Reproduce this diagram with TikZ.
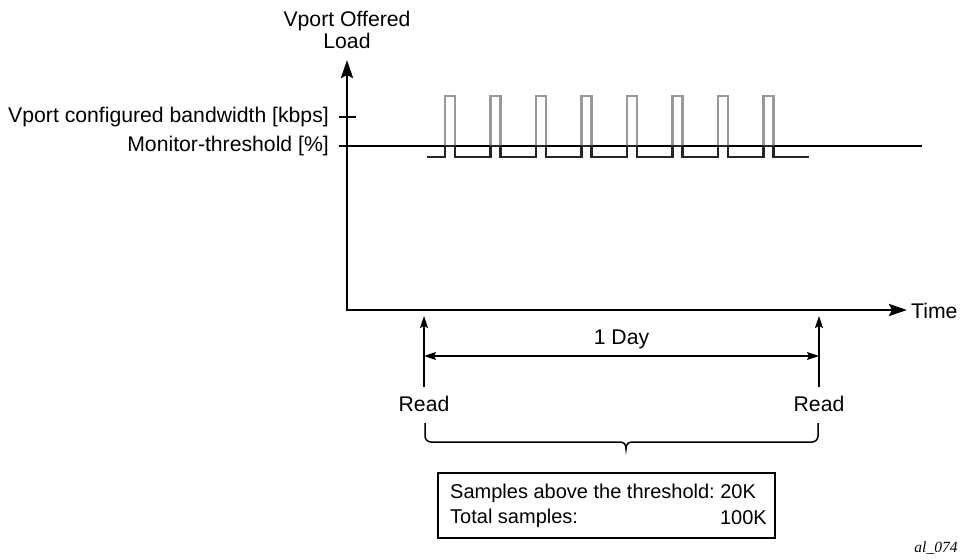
\documentclass[tikz,border=0pt]{standalone}
\usepackage{fontspec}
\setmainfont{Liberation Sans}
\newfontfamily\capfont{Liberation Serif}
\usetikzlibrary{arrows.meta}
\frenchspacing
\tikzset{
  axisline/.style={line width=2.8pt,-{Stealth[length=18pt,width=12pt,inset=3pt]}},
  thline/.style={line width=2.8pt},
  trace/.style={line width=2.5pt,black!85},
  pulse/.style={line width=2.5pt,black!40},
  readarrow/.style={line width=1.5pt,-{Stealth[length=12pt,width=8pt,inset=2pt]}},
  dayarrow/.style={line width=1.5pt,{Stealth[length=12pt,width=8pt,inset=2pt]}-{Stealth[length=12pt,width=8pt,inset=2pt]}},
  lbl/.style={font=\fontsize{21.2}{22.5}\selectfont,inner sep=0pt},
  boxlbl/.style={font=\fontsize{20}{22}\selectfont,inner sep=0pt},
}
\begin{document}
\begin{tikzpicture}[x=1pt,y=-1pt]
\useasboundingbox (0,0) rectangle (960,559);
% axes
\coordinate (origin) at (347,310);
\coordinate (ytop) at (347,60);
\coordinate (xend) at (907,310);
\draw[axisline] (origin) -- (ytop);
\draw[axisline] ([xshift=-1.4pt]origin) -- (xend);
\node[lbl,anchor=west] (time) at (911,311) {Time};
\node[lbl,align=center] (ylabel) at (347,30) {Vport Offered\\Load};
% ticks
\coordinate (tk1) at (339,117);
\coordinate (tk1e) at (356,117);
\draw[thline] (tk1) -- (tk1e);
\coordinate (th1) at (339,146);
\coordinate (th2) at (922,146);
\draw[thline] (th1) -- (th2);
\node[lbl,anchor=east] (bw) at (329,117) {Vport configured bandwidth [kbps]};
\node[lbl,anchor=east] (mt) at (329,146) {Monitor-threshold [\%]};
% pulses
\foreach \x in {445,490.5,536,581.5,627,672.5,718,763.5}{
  \draw[pulse] (\x,146) -- (\x,96) -- (\x+10,96) -- (\x+10,146);
}
\draw[trace] (427,157) -- (445,157) -- (445,146)
  -- (455,146) -- (455,157) -- (490.5,157) -- (490.5,146)
  -- (500.5,146) -- (500.5,157) -- (536,157) -- (536,146)
  -- (546,146) -- (546,157) -- (581.5,157) -- (581.5,146)
  -- (591.5,146) -- (591.5,157) -- (627,157) -- (627,146)
  -- (637,146) -- (637,157) -- (672.5,157) -- (672.5,146)
  -- (682.5,146) -- (682.5,157) -- (718,157) -- (718,146)
  -- (728,146) -- (728,157) -- (763.5,157) -- (763.5,146)
  -- (773.5,146) -- (773.5,157) -- (809,157);
% read arrows
\node[lbl] (read1) at (424,404) {Read};
\node[lbl] (read2) at (819,404) {Read};
\coordinate (r1top) at (424,316);
\coordinate (r2top) at (819,316);
\coordinate (r1bot) at (424,387);
\coordinate (r2bot) at (819,387);
\draw[readarrow] (r1bot) -- (r1top);
\draw[readarrow] (r2bot) -- (r2top);
\coordinate (d1) at (424,356);
\coordinate (d2) at (819,356);
\draw[dayarrow] (d1) -- (d2);
\node[lbl] (day) at (621.5,339) {1 Day};
% brace
\draw[line width=1.5pt,rounded corners=6pt] (425,423) -- (425,442) -- (619,442);
\draw[line width=1.5pt] (619,442) .. controls (624,442) and (626,444) .. (626,449)
  .. controls (626,444) and (628,442) .. (633,442);
\draw[line width=1.5pt,rounded corners=6pt] (633,442) -- (818,442) -- (818,423);
% box
\node[draw,line width=2pt,minimum width=337pt,minimum height=65pt,inner sep=0pt] (box) at (606.5,505.5) {};
\node[boxlbl,anchor=west] (s1) at (450,493) {Samples above the threshold: 20K};
\node[boxlbl,anchor=west] (s2) at (450,518) {Total samples:};
\node[boxlbl,anchor=east] (s3) at (767,518) {100K};
\node[font=\capfont\itshape\fontsize{15.5}{17}\selectfont,inner sep=0pt] (tag) at (936,548) {al\_074};
\end{tikzpicture}
\end{document}
